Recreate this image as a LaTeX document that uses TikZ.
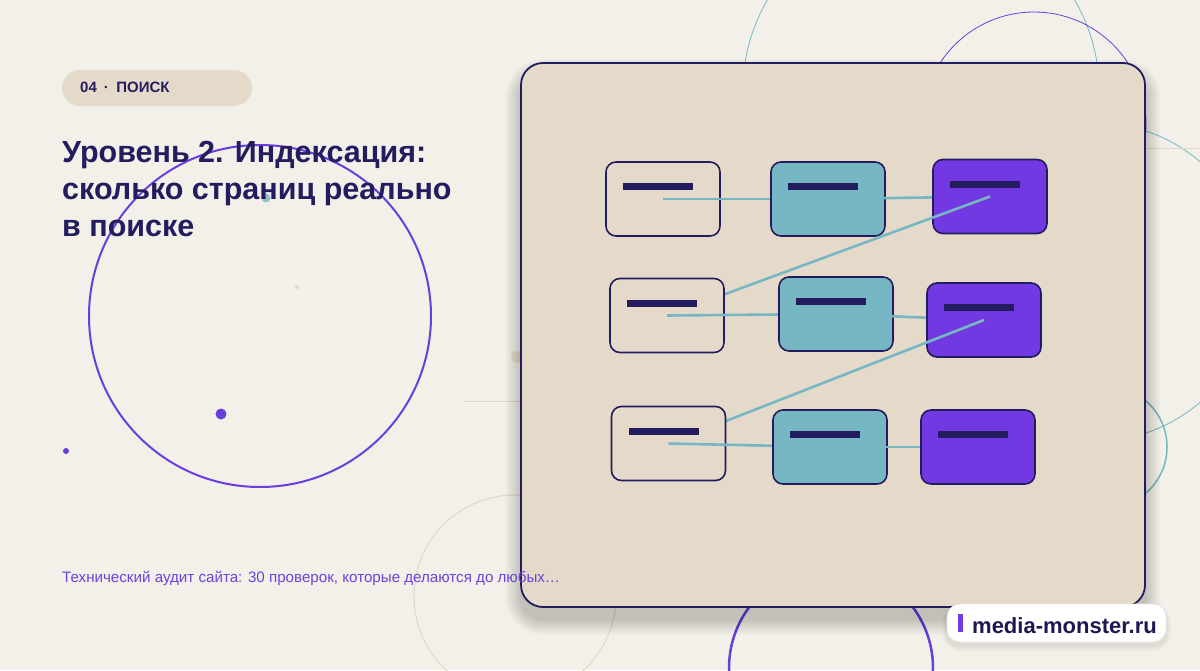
\documentclass[tikz,border=0pt]{standalone}
\usepackage{fontspec}
\setmainfont{Liberation Sans}
\usetikzlibrary{calc}
\definecolor{bg}{HTML}{F3F0EA}
\definecolor{panelfill}{HTML}{E5D9CA}
\definecolor{navy}{HTML}{231C5E}
\definecolor{purp}{HTML}{7239E2}
\definecolor{purpline}{HTML}{6A3EDD}
\definecolor{teal}{HTML}{77B7C4}
\definecolor{beige}{HTML}{E2D6C6}
\definecolor{subpurp}{HTML}{6E43D9}
\tikzset{
  boxbase/.style={rectangle, rounded corners=10pt, minimum width=114pt, minimum height=74pt, draw=navy, line width=1.6pt, inner sep=0pt},
  boxA/.style={boxbase, fill=panelfill},
  boxB/.style={boxbase, fill=teal},
  boxC/.style={boxbase, fill=purp},
  link/.style={teal, line width=2.6pt},
  deco/.style={line width=0.8pt},
}
\newcommand{\pagebar}[1]{\fill[navy] ($(#1.center)+(-40,-16)$) rectangle ++(70,7);}
\begin{document}
\begin{tikzpicture}[x=1pt,y=-1pt]
\useasboundingbox (0,0) rectangle (1200,670);
\fill[bg] (0,0) rectangle (1200,670);
% decorations
\draw[purpline, line width=2pt] (260,316) circle (171pt);
\fill[teal, opacity=0.8] (266,198) circle (4.5pt);
\fill[beige] (297,287) circle (2pt);
\fill[purpline] (221,414) circle (5.5pt);
\fill[purpline] (66,451) circle (3pt);
\fill[beige!70!bg] (517,357) circle (6pt);
\draw[beige, line width=1pt] (463,401) -- (522,401);
\draw[beige, line width=1pt] (515,596) circle (101pt);
\draw[purpline, line width=2.5pt] (831,668) circle (102pt);
\draw[teal, deco] (921,90) circle (178pt);
\draw[purpline, deco] (1034,124) circle (112pt);
\draw[teal, deco] (1096,282) circle (159pt);
\draw[teal, line width=1.5pt] (1106,447) circle (61pt);
\draw[beige, line width=0.8pt] (1140,148) -- (1200,148);
% shadow of panel
\foreach \i in {1,...,16} {
  \fill[black, opacity=0.01] ($(521,63)+(-\i,-\i+12)$) [rounded corners=22pt+\i pt] rectangle ($(1145,607)+(\i,\i+12)$);
}
% panel
\draw[navy, line width=1.8pt, fill=panelfill, rounded corners=22pt] (521,63) rectangle (1145,607);
% chain of pages
\coordinate (pa1) at (663,199);
\coordinate (pb1) at (828,199);
\coordinate (pc1) at (990,196.5);
\coordinate (pa2) at (667,315.5);
\coordinate (pb2) at (836,314);
\coordinate (pc2) at (984,320);
\coordinate (pa3) at (668.5,443.5);
\coordinate (pb3) at (830,447);
\coordinate (pc3) at (978,447);
\node[boxA] (a1) at (pa1) {}; \pagebar{a1}
\draw[link] (a1.center) -- (pb1);
\node[boxB] (b1) at (pb1) {}; \pagebar{b1}
\draw[link] (b1.center) -- (pc1);
\node[boxC] (c1) at (pc1) {}; \pagebar{c1}
\draw[link] (c1.center) -- (pa2);
\node[boxA] (a2) at (pa2) {}; \pagebar{a2}
\draw[link] (a2.center) -- (pb2);
\node[boxB] (b2) at (pb2) {}; \pagebar{b2}
\draw[link] (b2.center) -- (pc2);
\node[boxC] (c2) at (pc2) {}; \pagebar{c2}
\draw[link] (c2.center) -- (pa3);
\node[boxA] (a3) at (pa3) {}; \pagebar{a3}
\draw[link] (a3.center) -- (pb3);
\node[boxB] (b3) at (pb3) {}; \pagebar{b3}
\draw[link] (b3.center) -- (pc3);
\node[boxC] (c3) at (pc3) {}; \pagebar{c3}
% badge
\fill[panelfill, rounded corners=18pt] (62,70) rectangle (252,106);
\node[anchor=base west, inner sep=0pt, text=navy, font=\fontsize{15}{17}\selectfont\bfseries] (badge) at (80,92) {04\hspace{7pt}·\hspace{7.5pt}ПОИСК};
% title
\node[anchor=base west, inner sep=0pt, text=navy, font=\fontsize{30.5}{37}\selectfont\bfseries] (t1) at (62,162) {Уровень 2. Индексация:};
\node[anchor=base west, inner sep=0pt, text=navy, font=\fontsize{30.5}{37}\selectfont\bfseries] (t2) at (62,199) {сколько страниц реально};
\node[anchor=base west, inner sep=0pt, text=navy, font=\fontsize{30.5}{37}\selectfont\bfseries] (t3) at (62,236) {в поиске};
% subtitle
\node[anchor=base west, inner sep=0pt, text=subpurp, font=\fontsize{15.15}{18}\selectfont] (sub) at (62,582) {Технический аудит сайта: 30 проверок, которые делаются до любых…};
% brand badge
\foreach \i in {1,...,5} {
  \fill[black, opacity=0.015] ($(947,604)+(-\i,-\i+4)$) [rounded corners=13pt+\i pt] rectangle ($(1166,642)+(\i,\i+4)$);
}
\draw[fill=white, draw=beige!60, line width=0.6pt, rounded corners=13pt] (947,604) rectangle (1166,642);
\fill[purp] (958,614) rectangle (963,632);
\node[anchor=base west, inner sep=0pt, text=navy!85!black, font=\fontsize{22}{26}\selectfont\bfseries] (brand) at (972,633) {media-monster.ru};
\end{tikzpicture}
\end{document}
